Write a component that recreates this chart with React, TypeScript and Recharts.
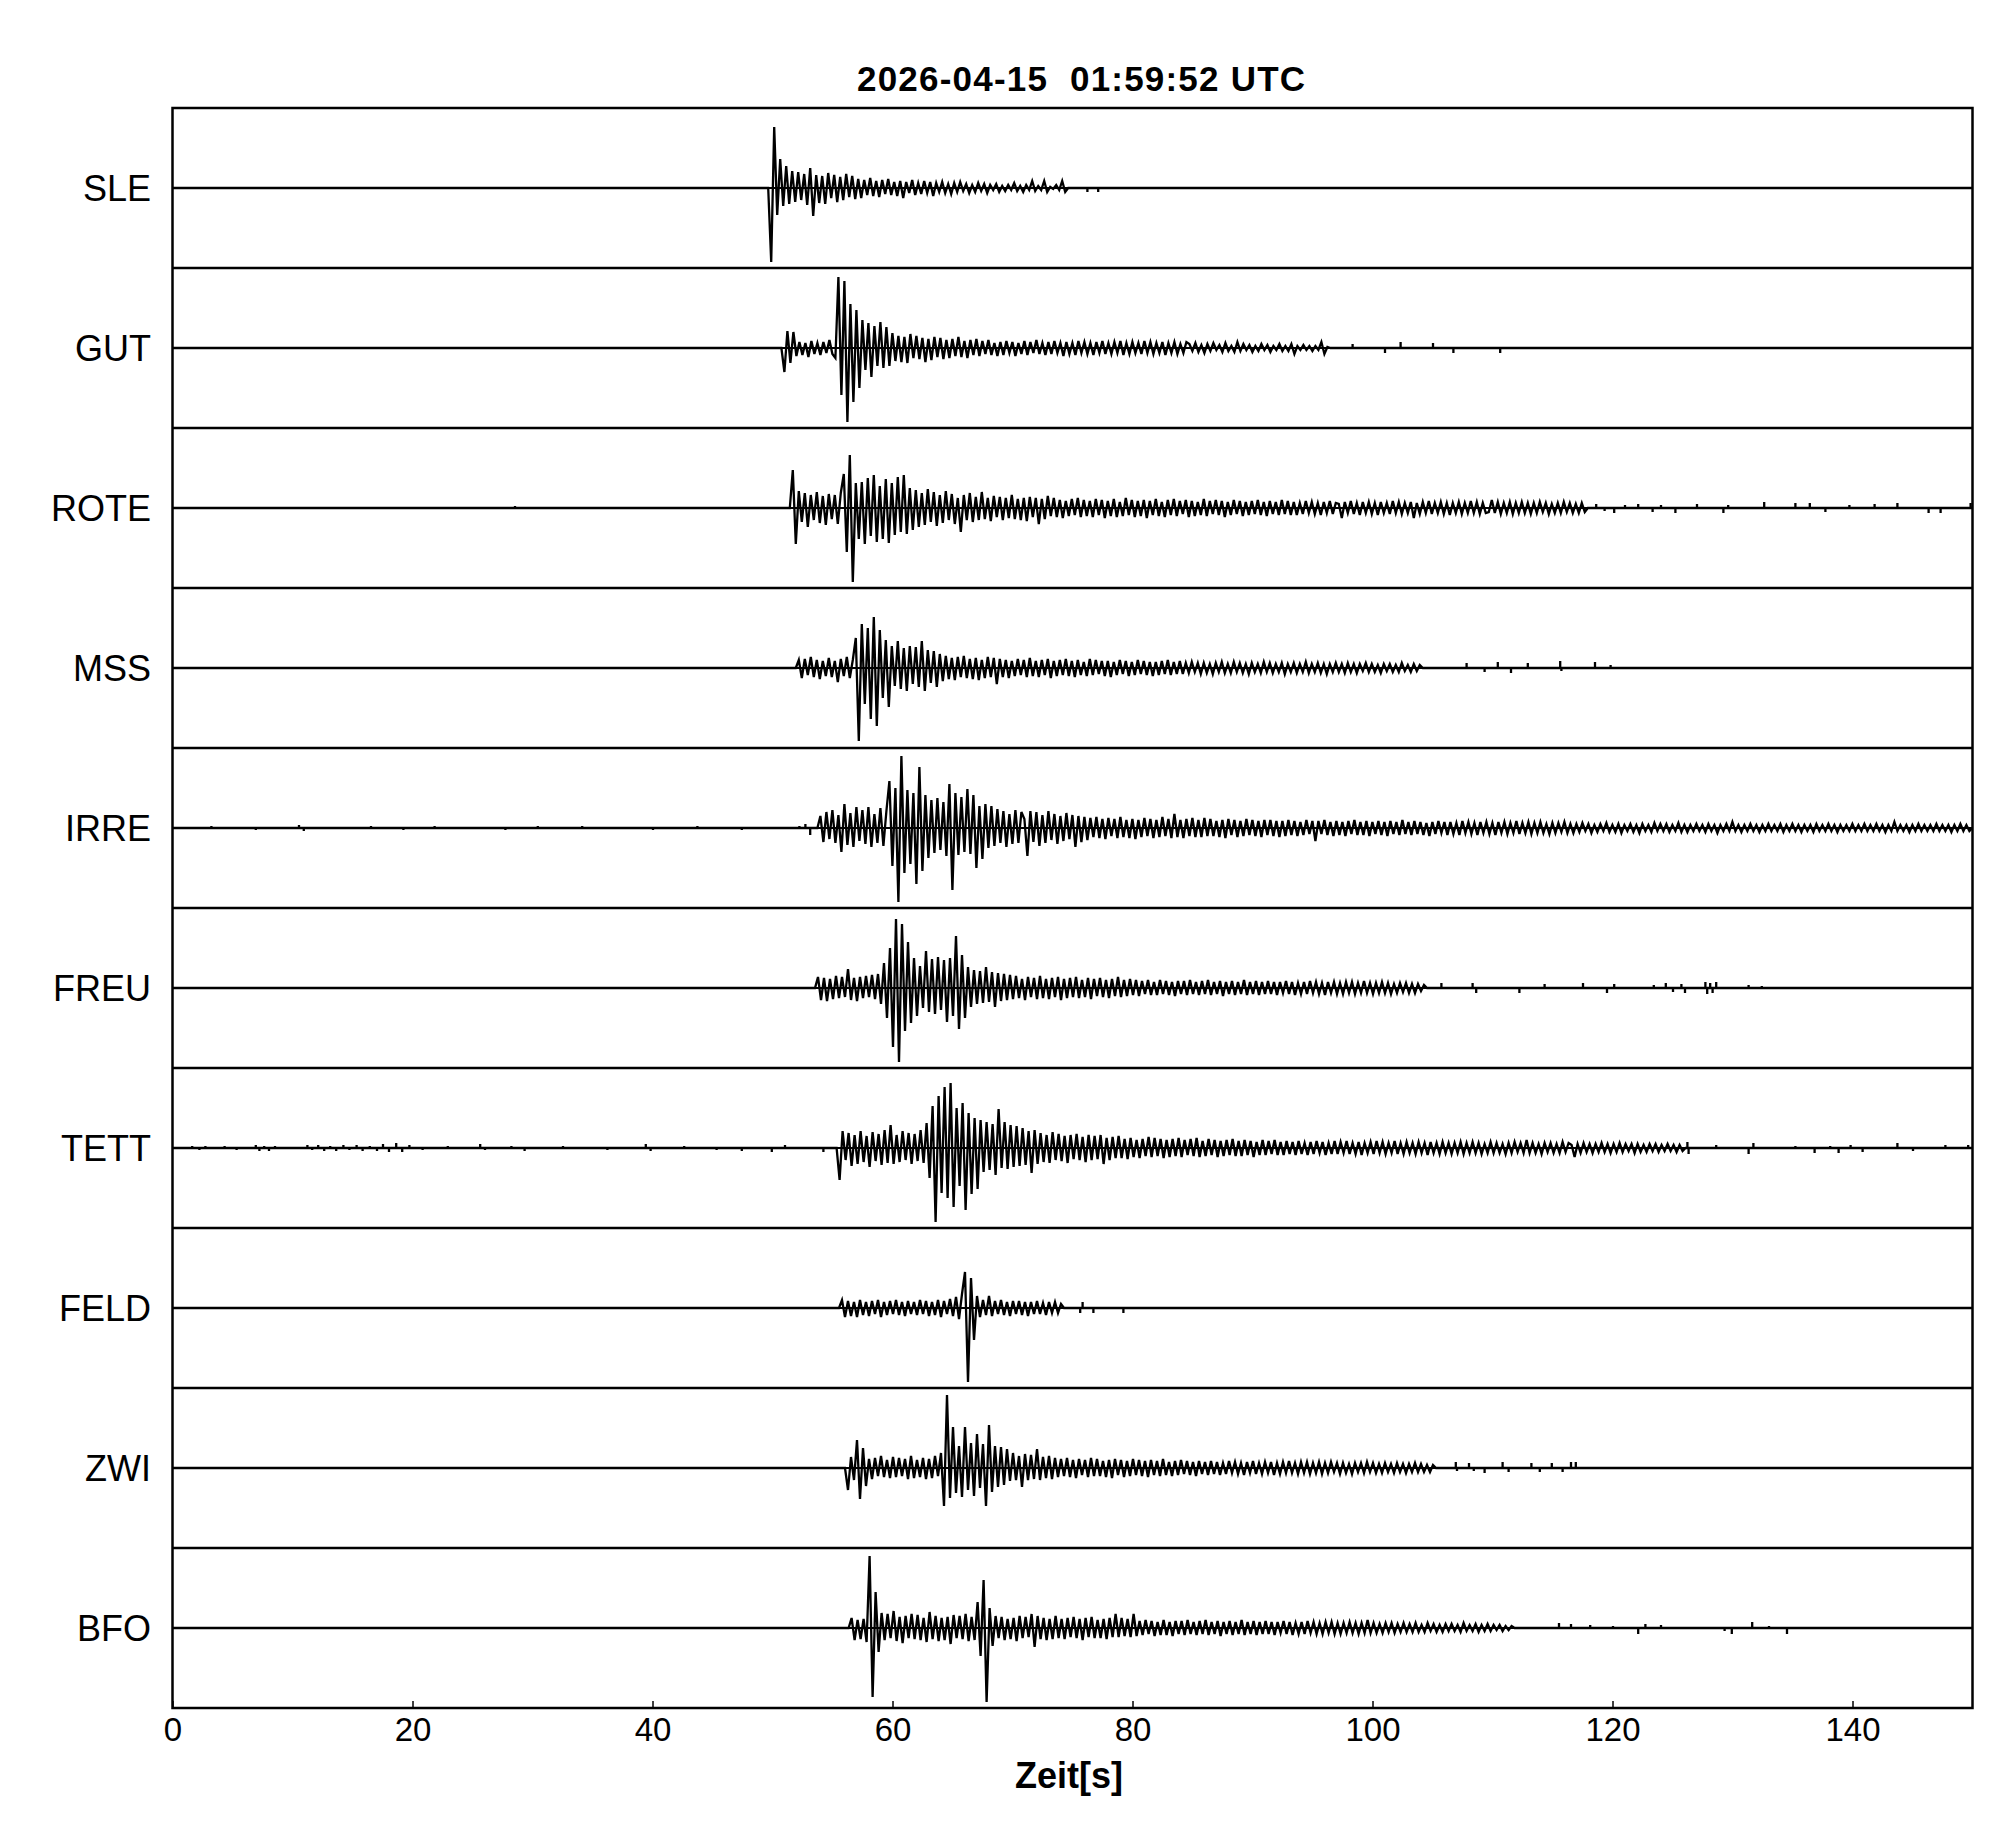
import React from 'react';
import { LineChart, Line, XAxis, YAxis, ReferenceLine } from 'recharts';

const FONT = '"Liberation Sans", Arial, Helvetica, sans-serif';

const STATIONS = ['SLE', 'GUT', 'ROTE', 'MSS', 'IRRE', 'FREU', 'TETT', 'FELD', 'ZWI', 'BFO'];
const ONSETS = [49.6, 50.7, 51.4, 51.9, 53.7, 53.5, 55.3, 55.5, 56.0, 56.3];
const SAMPLE_DT = 0.25;
const X_TICKS = [0, 20, 40, 60, 80, 100, 120, 140];
const TITLE = '2026-04-15  01:59:52 UTC';
const X_LABEL = 'Zeit[s]';

const SLE_WAVE = [0,-74,61,-27,29,-18,22,-16,17,-14,
16,-12,14,-17,20,-28,13,-15,12,-16,
15,-10,13,-14,11,-12,14,-9,12,-11,
9,-10,8,-7,10,-8,7,-9,8,-6,
9,-7,6,-8,7,-10,6,-5,8,-7,
5,-6,7,-5,6,-8,5,-4,6,-5,
4,-6,5,-4,6,-3,4,-5,3,-4,
5,-3,4,-5,3,-2,4,-4,2,-3,
3,-2,5,-3,2,-4,3,-2,7,-3,
2,-2,7,-4,1,-1,3,-2,7,-4,
0];

const GUT_WAVE = [0,-24,17,-15,16,
-8,6,-7,5,-9,7,-6,5,-7,6,-5,8,-6,
-10,
71,-47,67,-74,44,-54,38,-40,
28,-22,25,-29,22,-18,26,-20,21,-18,
15,-13,12,-14,11,-15,14,-10,12,-11,10,-14,9,-12,11,-9,10,-11,8,-10,9,-8,11,-9,7,-10,8,-7,9,
-8,7,-6,8,-7,5,-8,6,-7,7,-5,6,-8,5,-6,7,-7,6,-5,8,-6,5,-7,6,-6,7,-5,5,-8,6,-6,5,-7,7,-5,6,-6,5,-7,6,-5,7,-6,5,-6,6,-5,7,-7,5,-6,6,-5,5,-6,7,-5,6,-6,5,-5,6,-7,5,-5,6,-6,4,-5,6,
4,-3,5,-4,3,-5,4,-3,5,-2,3,-4,5,-3,2,-4,6,-3,4,-2,3,-4,2,-3,4,-2,3,-4,2,-2,4,-3,2,-3,4,-6,2,-2,3,-2,2,-3,2,-2,6,-6,1,0];

const ROTE_WAVE = [0,38,-36,
17,-14,15,-19,13,-12,16,-15,12,-17,14,-11,13,-16,15,
34,-44,53,-74,25,
-31,26,-36,30,-28,33,-34,22,-31,29,-35,25,-27,31,-24,33,-26,20,-22,
18,-19,15,-17,19,-14,16,-18,13,-15,17,-12,14,-16,10,-24,13,-12,15,-14,11,
-12,16,-11,10,-13,12,-9,11,-12,10,-10,13,-11,9,-12,10,-13,11,-9,10,-16,9,-11,12,-8,10,
-9,8,-10,7,-8,9,-7,10,-9,8,-8,7,-9,9,-7,8,-10,7,-8,9,-9,6,-8,10,-7,8,-9,7,-8,8,-10,7,-7,9,-8,6,-9,8,-7,9,-8,7,-6,8,-9,7,-8,6,-7,9,-8,7,-6,8,-7,7,-9,6,-7,8,-6,7,-8,6,-7,7,-6,8,-7,6,-8,7,-6,6,-7,8,-6,7,-7,
6,-7,5,-6,7,-5,6,-6,5,-7,6,-5,7,-6,5,4,-10,6,-5,7,-6,5,-7,6,-5,6,-6,5,-7,6,-5,5,-6,7,-5,6,-6,5,-5,6,-10,5,-6,6,-5,7,-6,5,-5,6,-6,5,-7,5,-5,6,-6,5,-5,7,-5,6,-6,5,-5,-4,8,-5,6,-6,5,-5,6,-6,5,-5,6,-5,5,-6,5,-5,6,-4,5,-6,4,-5,5,-5,6,-4,5,-5,4,-5,5,-4,0];

const MSS_WAVE = [0,8,-10,9,-7,11,-9,8,-11,7,-8,10,-9,7,-14,9,-8,11,-10,8,
30,-73,44,-36,40,-51,51,-58,38,-30,28,-39,
22,-18,27,-21,20,-23,22,-16,21,-19,27,-23,18,-15,17,-19,14,-13,
12,-11,10,-12,11,-9,12,-10,9,-11,10,-12,8,-10,11,-9,10,-16,9,
-9,8,-10,7,-8,9,-7,8,-9,10,-8,7,-9,8,-7,9,-10,7,-8,8,-7,9,-8,7,-9,8,-7,6,-8,9,-7,8,-6,7,-8,7,-9,6,-7,8,-6,7,-8,6,-7,8,-6,7,-7,6,-8,6,-7,7,-6,8,-7,6,-6,7,
-6,5,-5,6,-4,5,-6,5,-5,4,-6,5,-4,6,-5,4,-5,6,-4,5,-5,4,-6,5,-4,4,-5,6,-4,5,-5,4,-4,5,-6,4,-4,5,-5,4,-4,6,-5,4,-4,5,-5,4,-6,4,-4,5,-4,4,-5,5,-4,4,-5,4,-3,5,-4,4,-4,3,-5,4,-3,4,-4,3,-4,5,-3,3,-4,4,-3,3,0];

const IRRE_WAVE = [0,12,-14,16,-11,18,-15,13,-24,24,-17,15,-19,21,-13,18,-16,21,-19,14,-15,20,-18,17,
47,-38,40,-74,72,-45,38,-36,35,-56,61,-43,33,-30,
28,-25,30,-22,26,-28,44,-62,35,-27,31,-24,39,-26,33,-40,22,-31,24,-20,22,
-18,19,-15,17,-19,14,-16,18,-15,16,9,-28,17,-14,16,-18,13,-15,17,-12,14,-16,12,-13,15,-11,13,-19,12,-14,11,-12,
10,-9,11,-10,9,-11,10,-8,9,-10,11,-9,8,-10,9,-11,8,-9,10,-8,9,-10,8,-9,11,-8,9,-10,14,-9,8,-10,9,-8,10,-9,8,-9,10,-8,9,-8,7,-9,8,-10,9,-7,8,-9,7,-8,9,-7,8,-8,7,-9,8,-7,8,-8,7,-9,7,-8,8,-7,
7,-8,6,-7,8,-6,7,-13,7,-6,8,-7,6,-8,7,-7,6,-8,7,-6,8,-7,6,-7,7,-8,6,-6,7,-7,6,-8,7,-6,6,-7,8,-6,6,-7,7,-6,6,-7,5,-8,6,-6,7,-5,6,-7,6,-6,5,-7,7,-5,6,-6,5,-7,6,-5,6,-6,5,-7,6,-5,6,-6,5,-5,7,-6,5,-5,6,-6,5,-5,6,-5,4,-6,5,-5,5,-4,6,-5,4,-5,
4,-4,5,-3,4,-5,3,-4,4,-3,5,-4,3,-4,4,-5,3,-3,4,-4,3,-5,4,-3,3,-4,5,-3,4,-3,4,-4,3,-3,5,-4,3,-4,3,-3,4,-3,3,-4,4,-3,3,-5,3,-3,4,-3,6,-3,3,-4,3,-3,4,-3,3,-4,3,-3,4,-3,3,-3,4,-4,3,-3,4,-3,3,-4,3,-3,3,-4,4,-3,3,-3,4,-3,3,-4,3,-3,3,-3,4,-3,3,-3,4,-3,3,-3,4,-3,3,-4,3,-3,6,-3,3,-3,3,-4,3,-3,4,-3,3,-3,3,-3,4,-3,3,-3,3,-4,3,-3,4,-3,3,-3,0];

const FREU_WAVE = [0,11,-12,10,-13,9,-11,12,-10,11,-9,19,-12,10,-13,11,-10,12,-9,13,-11,14,
-16,25,-30,40,-59,69,-74,64,-43,46,
-35,30,-28,22,-20,37,-24,29,-26,31,-22,28,-34,30,-28,52,-41,33,-30,
21,-19,18,-16,17,-15,21,-14,16,-19,15,-13,14,-12,13,
-11,12,-10,9,-12,11,-9,10,-11,12,-10,9,-11,10,-9,11,-12,9,-10,10,-9,11,-10,8,-9,10,-11,9,-8,10,-9,8,-10,9,-8,11,-9,8,-8,9,-7,8,
-8,7,-6,8,-7,6,-7,8,-6,7,-7,6,-8,7,-6,7,-7,8,-6,6,-7,7,-6,8,-7,6,-6,7,-8,6,-6,7,-7,6,-6,8,-7,6,-6,7,-7,6,-6,7,-6,6,-7,6,-5,7,-6,6,-7,5,-6,6,-6,7,-5,6,-6,5,-7,6,-5,6,-6,5,-6,6,-5,6,-6,5,-5,7,-5,5,-6,5,-5,6,-5,5,-6,4,-5,5,-4,5,-5,4,-5,4,-3,3,0];

const TETT_WAVE = [0,-32,17,
-12,15,-18,13,-16,17,-14,12,-19,16,-13,14,-17,18,-15,23,-16,13,-14,17,-12,15,-16,14,-13,18,-15,
25,-30,42,-74,52,-45,61,-50,65,-59,40,-38,45,-62,35,-46,30,-41,
28,-24,26,-22,24,-27,39,-20,26,-21,23,-19,22,-18,20,-17,17,-25,18,-16,
15,-14,13,-15,16,-12,14,-13,12,-15,13,-11,14,-12,11,-14,13,-12,12,-11,13,-16,10,-12,11,-10,12,
-10,9,-11,10,-9,8,-10,9,-8,11,-9,10,-8,9,-10,8,-9,9,-8,10,-9,8,-7,9,-8,10,-9,7,-8,9,-7,8,-9,7,-8,8,-7,9,-8,7,-8,8,-7,7,-9,6,-7,8,-7,7,-6,8,-7,6,-7,7,-6,
6,-7,7,-6,5,-7,6,-6,7,-5,6,-7,5,-6,7,-6,6,-5,7,-6,5,-6,6,-7,5,-5,6,-6,7,-5,6,-6,5,-5,7,-6,5,-6,6,-5,5,-6,6,-5,5,-7,6,-5,5,-6,6,-5,5,-6,5,-5,6,-6,5,-5,6,-5,5,-6,4,-5,6,-5,5,-5,4,-6,5,-5,6,-4,5,-5,8,-5,5,-5,4,-6,5,-4,5,-5,4,-5,6,-4,5,3,-9,4,-5,5,-4,4,-5,4,-4,5,-4,4,-5,4,-4,5,-4,4,-3,4,-5,4,-4,3,-4,4,-3,4,-4,3,-3,4,-3,3,-4,3,-3,0];

const FELD_WAVE = [0,8,-9,7,-8,6,-9,8,-7,6,-8,7,-6,8,-9,6,-7,7,-6,8,-7,6,-8,7,-6,6,-7,8,-6,7,-8,6,-7,8,-9,7,-6,9,-8,
11,-11,14,36,-74,30,-32,12,
-9,8,-7,12,-8,7,-6,8,-7,6,-8,7,-6,7,-7,6,-8,6,-6,7,-6,5,-7,6,-5,6,-5,4,0];

const ZWI_WAVE = [0,-22,11,-12,28,-31,20,-18,
9,-11,10,-8,12,-9,8,-10,11,-9,10,-8,9,-11,12,-10,8,-9,10,-11,9,-10,12,-8,
15,-38,73,-30,41,-25,22,-29,41,-22,25,-28,34,-20,24,-38,43,-24,22,-19,21,-17,19,
-13,15,-12,12,-19,14,-12,13,-11,19,-12,11,-10,12,-11,10,-9,
9,-8,10,-9,8,-10,9,-7,8,-9,10,-8,9,-8,7,-9,8,-10,9,-7,8,-9,7,-8,9,-7,8,-8,7,-9,8,-7,7,-8,9,-7,6,-8,7,-7,8,-6,7,-7,6,-8,7,-6,6,-7,7,-6,
6,-7,5,-6,7,-5,6,-6,5,-7,6,-5,7,-6,5,-6,6,-5,6,-7,5,-6,6,-5,7,-5,5,-6,6,-5,6,-6,5,-5,6,-6,5,-5,6,-4,5,-6,5,-5,4,-6,5,-4,5,-5,6,-4,5,-5,4,-5,5,-4,4,-5,5,-4,4,-5,4,-4,5,-4,4,-4,3,-4,3,0];

const BFO_WAVE = [0,10,-12,8,-11,9,-14,72,-69,36,-24,15,
-12,14,-10,17,-13,11,-15,12,-10,14,-11,13,-12,10,-14,16,-11,12,-13,10,-12,11,-16,13,-10,12,-11,14,-13,11,-12,
26,-28,48,-74,20,-18,
12,-10,11,-12,9,-11,10,-13,12,-10,11,-9,14,-19,12,-11,10,-12,9,-11,12,-10,9,-11,10,-9,11,-10,9,-12,10,-9,11,-10,8,-10,9,-11,10,-9,14,-9,10,-8,9,-9,14,
-8,7,-7,8,-6,7,-8,6,-7,8,-7,6,-8,7,-6,7,-7,8,-6,6,-7,7,-6,8,-7,6,-6,7,-8,6,-6,7,-7,6,-6,8,-7,6,-6,7,-7,6,-6,7,-6,6,-7,6,-5,7,-6,6,-7,5,-6,6,-6,7,-5,6,-6,5,-6,6,-5,6,-6,5,-6,5,-5,6,-5,5,-6,5,-5,8,-5,5,-5,4,-5,5,-4,5,-5,4,-4,5,-4,4,
-4,5,-4,3,-4,5,-3,4,-4,3,-4,4,-3,4,-3,3,-4,5,-3,3,-3,4,-4,3,-3,4,-3,3,-2,3,-3,2,-2,2,0];

// isolated spikes [time s, amplitude] before the onset or after the dense coda
const SLE_SPIKES = [[76.2, -4], [77.1, -4]];
const GUT_SPIKES = [[98.3, 4], [101.0, -5], [102.3, 6], [105.0, 5], [106.7, -5], [110.6, -5]];
const ROTE_SPIKES = [[28.5, 2], [118.6, 4], [119.3, -3], [120.1, -5], [121.0, 3], [122.1, 4], [123.3, -4], [124.0, 3], [125.2, -5], [127.0, 4], [129.2, -5], [129.6, 3], [132.6, 6], [135.2, 5], [136.4, 5], [137.7, -4], [139.7, 3], [141.8, 4], [143.7, 5], [146.3, -5], [147.3, -5], [149.8, 5]];
const MSS_SPIKES = [[107.8, 5], [109.3, -4], [110.4, 6], [111.5, -5], [112.9, 5], [115.6, 7], [115.7, -3], [118.5, 6], [119.8, 3]];
const IRRE_SPIKES = [[3.2, 2], [6.9, -2], [10.5, 3], [10.9, -3], [16.5, 2], [19.2, -2], [21.8, 2], [27.7, -2], [30.4, 2], [34.1, 2], [40.0, -2], [43.7, 2], [47.4, -2], [52.2, 2], [52.7, 4], [53.1, -7]];
const FREU_SPIKES = [[105.7, 5], [108.3, 5], [108.6, -5], [112.2, -5], [114.3, 4], [117.5, 5], [119.5, -5], [120.1, 4], [123.4, 3], [124.4, 5], [125.0, -4], [125.7, 4], [126.0, -5], [127.7, 6], [127.85, -6], [128.1, 5], [128.3, -5], [128.6, 6], [131.3, 3], [132.4, 2]];
const TETT_SPIKES = [[1.6, 2], [2.2, -2], [2.7, 2], [3.3, -1], [4.3, 2], [5.3, -2], [6.9, 3], [7.2, -3], [7.6, 2], [8.0, -3], [8.5, 2], [11.2, 3], [11.6, -2], [12.1, 3], [12.6, -3], [13.1, 2], [13.6, -3], [14.2, 3], [14.7, -2], [15.3, 3], [15.8, -3], [16.4, 2], [17.0, -3], [17.5, 4], [18.0, -4], [18.6, 5], [19.1, -4], [19.7, 3], [20.8, -2], [22.9, 2], [25.6, 4], [26.0, -2], [28.2, 2], [29.3, -3], [32.5, 2], [36.2, -2], [39.4, 4], [39.8, -3], [42.6, 2], [45.3, -2], [47.4, -3], [49.9, -4], [51.0, 3], [54.2, -4],
  [126.2, 6], [126.3, -6], [128.6, 3], [131.3, -6], [131.7, 5], [135.2, 2], [136.8, -5], [138.1, 2], [138.8, -5], [139.8, 3], [140.8, -4], [143.7, 5], [145.0, -3], [147.7, 3], [149.6, 3]];
const FELD_SPIKES = [[75.6, -5], [75.8, 6], [76.7, -5], [79.2, -5]];
const ZWI_SPIKES = [[106.9, 6], [107.0, -3], [108.0, 5], [108.4, -3], [109.3, -5], [110.8, 6], [111.3, -4], [113.2, 5], [113.9, -4], [114.9, 5], [115.8, -4], [116.5, 6], [116.9, 6]];
const BFO_SPIKES = [[115.5, 5], [116.5, 4], [118.1, 3], [120.0, 2], [122.1, -6], [122.7, 4], [124.0, 3], [129.3, -3], [129.9, -6], [131.6, 6], [133.0, 2], [134.5, -6]];

const WAVES = [SLE_WAVE, GUT_WAVE, ROTE_WAVE, MSS_WAVE, IRRE_WAVE, FREU_WAVE, TETT_WAVE, FELD_WAVE, ZWI_WAVE, BFO_WAVE];
const SPIKES = [SLE_SPIKES, GUT_SPIKES, ROTE_SPIKES, MSS_SPIKES, IRRE_SPIKES, FREU_SPIKES, TETT_SPIKES, FELD_SPIKES, ZWI_SPIKES, BFO_SPIKES];

type Pt = { t: number; v: number };

function buildTrace(k: number): Pt[] {
  const onset = ONSETS[k];
  const wave = WAVES[k];
  const end = onset + (wave.length - 1) * SAMPLE_DT;
  const pts: Pt[] = [{ t: 0, v: 0 }];
  for (const [t, a] of SPIKES[k]) {
    if (t < onset) pts.push({ t, v: 0 }, { t, v: a }, { t, v: 0 });
  }
  wave.forEach((v, i) => pts.push({ t: onset + i * SAMPLE_DT, v }));
  for (const [t, a] of SPIKES[k]) {
    if (t > end) pts.push({ t, v: 0 }, { t, v: a }, { t, v: 0 });
  }
  pts.push({ t: 150, v: 0 });
  return pts;
}

const PLOT_LEFT = 172.5;
const PLOT_TOP = 108;
const PLOT_W = 1800;
const PANEL_H = 160;
const SIDE = 40;

function Panel({ k }: { k: number }) {
  const last = k === STATIONS.length - 1;
  const data = buildTrace(k);
  const axisH = last ? 70 : 1;
  return (
    <div style={{ position: 'absolute', left: PLOT_LEFT - SIDE, top: PLOT_TOP + PANEL_H * k }}>
      <LineChart
        width={PLOT_W + 2 * SIDE}
        height={PANEL_H + axisH}
        data={data}
        margin={{ top: 0, right: SIDE, bottom: 0, left: SIDE }}
      >
        <XAxis
          dataKey="t"
          type="number"
          domain={[0, 150]}
          ticks={X_TICKS}
          interval={0}
          allowDataOverflow
          height={axisH}
          axisLine={false}
          tickSize={-7}
          tickMargin={17}
          tickLine={{ stroke: '#000', strokeWidth: 1.5 }}
          tick={last ? { fontSize: 33, fill: '#000', fontFamily: FONT } : false}
        />
        <YAxis type="number" domain={[-80, 80]} hide allowDataOverflow />
        <ReferenceLine y={0} stroke="#000" strokeWidth={2} ifOverflow="hidden" />
        <Line
          type="linear"
          dataKey="v"
          stroke="#000"
          strokeWidth={2.3}
          strokeLinejoin="miter"
          dot={false}
          activeDot={false}
          isAnimationActive={false}
        />
      </LineChart>
    </div>
  );
}

export default function App() {
  const bottom = PLOT_TOP + PANEL_H * STATIONS.length;
  return (
    <div style={{ position: 'absolute', left: 0, top: 0, width: 2005, height: 1841, background: '#fff' }}>
      {STATIONS.map((_, k) => (
        <Panel key={k} k={k} />
      ))}
      <svg
        width={2005}
        height={1841}
        style={{ position: 'absolute', left: 0, top: 0, pointerEvents: 'none' }}
      >
        <rect
          x={PLOT_LEFT}
          y={PLOT_TOP}
          width={PLOT_W}
          height={PANEL_H * STATIONS.length}
          fill="none"
          stroke="#000"
          strokeWidth={2.5}
        />
        {STATIONS.slice(1).map((_, i) => (
          <line
            key={i}
            x1={PLOT_LEFT}
            x2={PLOT_LEFT + PLOT_W}
            y1={PLOT_TOP + PANEL_H * (i + 1)}
            y2={PLOT_TOP + PANEL_H * (i + 1)}
            stroke="#000"
            strokeWidth={2.5}
          />
        ))}
        {STATIONS.map((s, k) => (
          <text
            key={s}
            x={151}
            y={PLOT_TOP + PANEL_H * k + PANEL_H / 2 + 13}
            textAnchor="end"
            fontSize={36}
            fontFamily={FONT}
            fill="#000"
          >
            {s}
          </text>
        ))}
        <text
          x={857}
          y={91}
          fontSize={35}
          fontWeight="bold"
          fontFamily={FONT}
          fill="#000"
          textLength={448}
          lengthAdjust="spacing"
          xmlSpace="preserve"
          style={{ whiteSpace: 'pre' }}
        >
          {TITLE}
        </text>
        <text
          x={1069}
          y={bottom + 80}
          textAnchor="middle"
          fontSize={36}
          fontWeight="bold"
          fontFamily={FONT}
          fill="#000"
        >
          {X_LABEL}
        </text>
      </svg>
    </div>
  );
}
